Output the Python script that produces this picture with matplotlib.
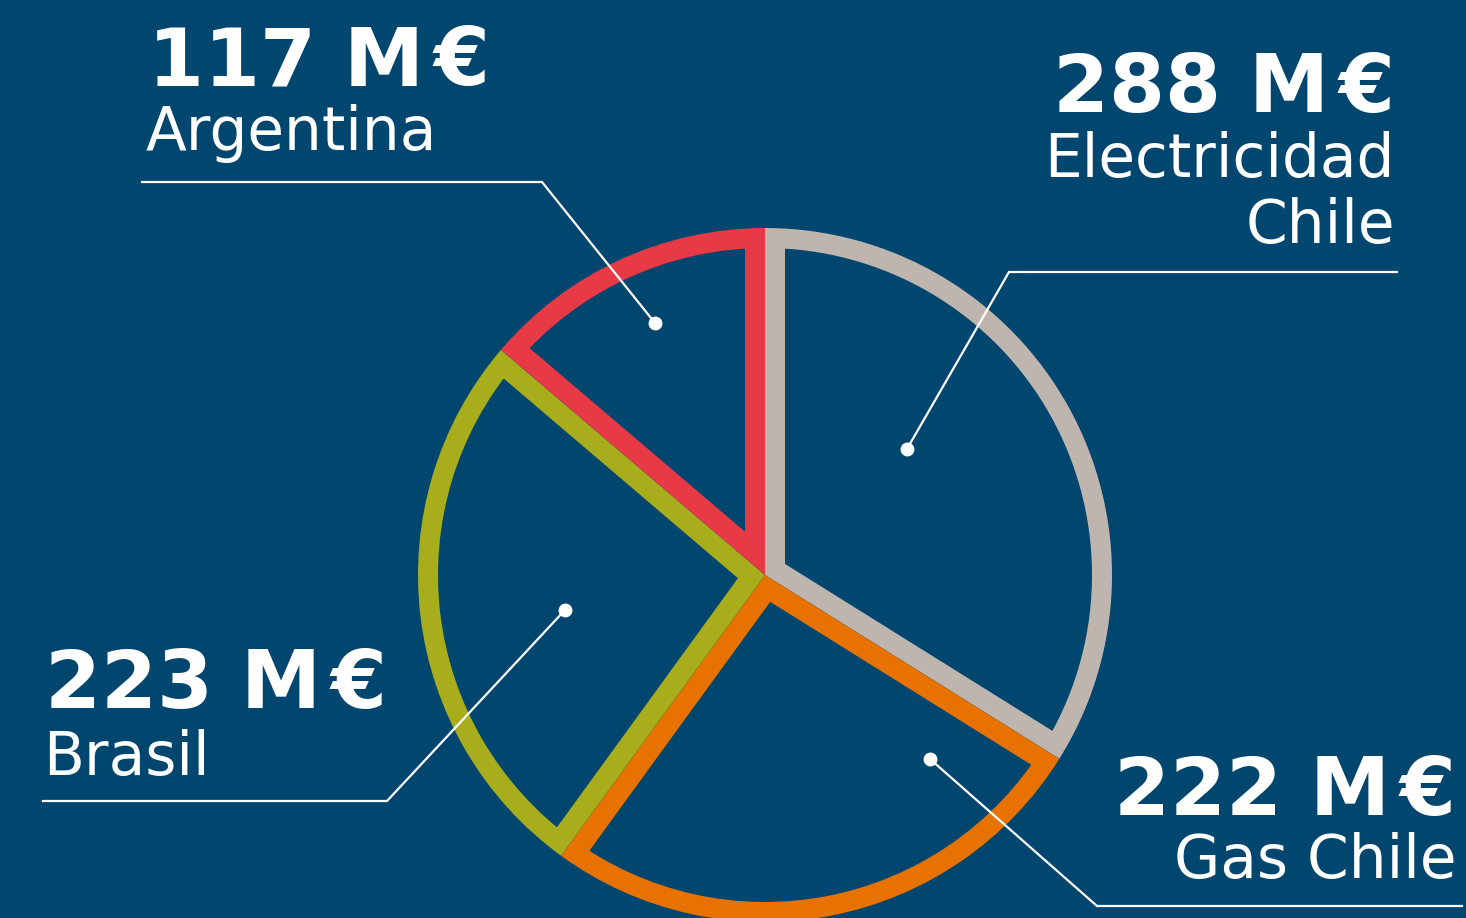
import matplotlib.pyplot as plt

### Datos ###
regiones = ["Electricidad\nChile", "Gas Chile", "Brasil", "Argentina"]
valores = [288, 222, 223, 117]  # M€
colores = ["#BEB6AE", "#E77200", "#A8AD1B", "#E73A46"]

FONDO = "#01466F"
W, H = 1466, 918

plt.rcParams['font.family'] = ['DejaVu Sans']

fig = plt.figure(figsize=(W / 100, H / 100), dpi=100, facecolor=FONDO)
ax = fig.add_axes([0, 0, 1, 1])
ax.set_facecolor(FONDO)

### Tarta con trazo interior (borde recortado a cada porción) ###
wedges, _ = ax.pie(valores, center=(765, H - 575), radius=347,
                   startangle=90, counterclock=False,
                   wedgeprops=dict(facecolor=FONDO, linewidth=28.8))
for w, c in zip(wedges, colores):
    w.set_edgecolor(c)
    w.set_clip_on(True)
    w.set_clip_path(w)

ax.set_xlim(0, W)
ax.set_ylim(0, H)
ax.set_aspect('equal')
ax.axis('off')

### Etiquetas: (x, y_valor, y_nombre, alineación) en píxeles ###
etiquetas = [
    (1395, 112, [177, 243], 'right'),
    (1456, 815, [878], 'right'),
    (45, 708, [775], 'left'),
    (148, 85, [150], 'left'),
]
# guías: línea horizontal + diagonal hasta el punto
guias = [
    [(1397, 272), (1009, 272), (907, 449)],
    [(1462, 906), (1097, 906), (930, 759)],
    [(43, 801), (387, 801), (565, 610)],
    [(142, 182), (542, 182), (655, 323)],
]

num = dict(color='white', fontsize=58, fontweight='bold', va='baseline')
gap = 7  # pt entre la M y el €

for reg, val, (x, yv, yn, ha), g in zip(regiones, valores, etiquetas, guias):
    y = H - yv
    # el € de DejaVu se monta sobre la M, así que va aparte
    if ha == 'left':
        t = ax.text(x, y, f"{val} M", ha='left', **num)
        ax.annotate("€", xy=(1, y), xycoords=(t, 'data'), xytext=(gap, 0),
                    textcoords='offset points', ha='left', **num)
    else:
        t = ax.text(x, y, "€", ha='right', **num)
        ax.annotate(f"{val} M", xy=(0, y), xycoords=(t, 'data'),
                    xytext=(-gap, 0), textcoords='offset points',
                    ha='right', **num)
    for linea, yl in zip(reg.split("\n"), yn):
        ax.text(x - 2 if ha == 'left' else x, H - yl, linea, color='white',
                fontsize=43, ha=ha, va='baseline')
    xs = [p[0] for p in g]
    ys = [H - p[1] for p in g]
    ax.plot(xs, ys, color='white', lw=1.6, solid_joinstyle='miter', zorder=5)
    ax.plot(xs[-1], ys[-1], 'o', color='white', ms=9, zorder=6)

fig.savefig("out.png", dpi=100, facecolor=FONDO)
